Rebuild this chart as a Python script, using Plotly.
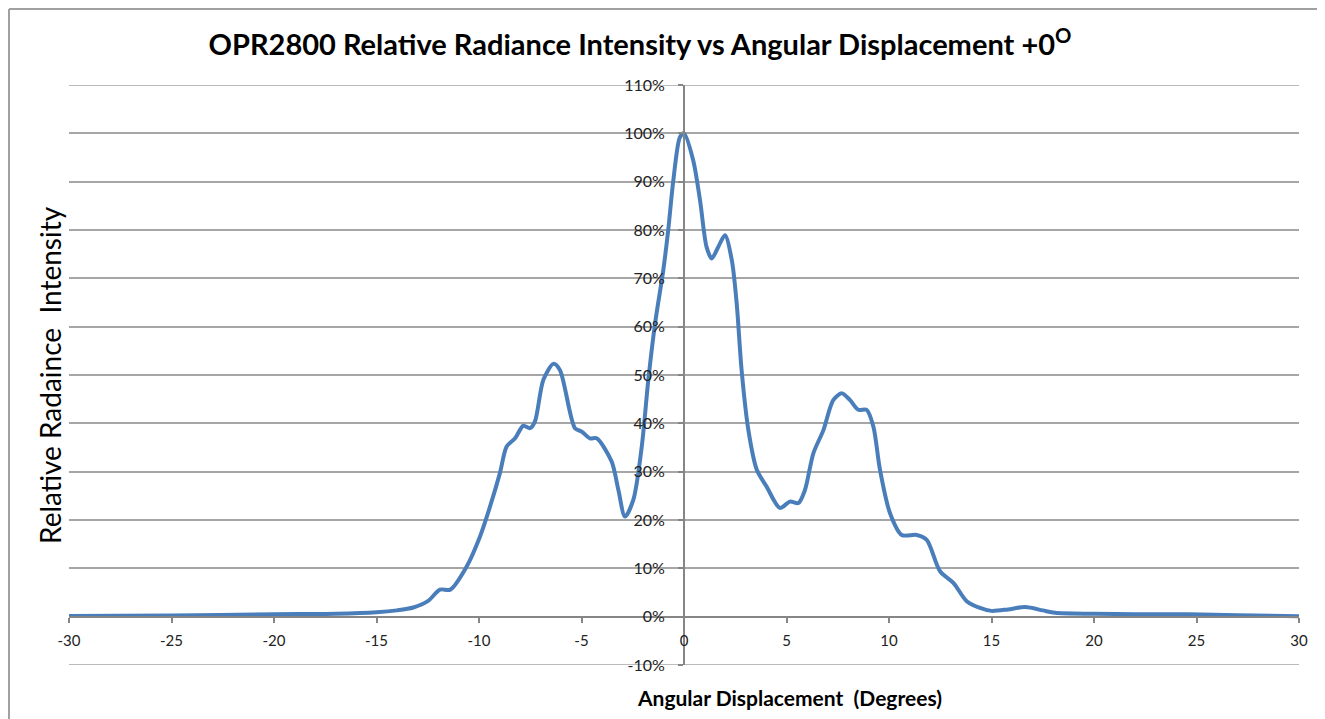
import plotly.graph_objects as go

angle_deg = [-30, -25, -20, -17, -15, -14, -13.2, -12.5, -11.9, -11.4, -10.6, -9.95, -9.46,
             -8.98, -8.65, -8.24, -7.84, -7.51, -7.27, -6.86, -6.37, -6.05, -5.32, -4.99,
             -4.59, -4.26, -3.53, -3.2, -2.88, -2.47, -2.06, -1.74, -1.41, -1.01, -0.77,
             -0.52, -0.2, 0, 0.45, 0.78, 1.1, 1.35, 1.67, 2.0, 2.33, 2.57, 2.81, 3.14,
             3.55, 4.03, 4.68, 5.17, 5.58, 5.9, 6.31, 6.8, 7.28, 7.69, 8.1, 8.5, 8.91,
             9.24, 9.56, 10.05, 10.62, 11.35, 11.84, 12.49, 13.14, 13.79, 14.44, 15,
             15.8, 16.65, 17.5, 18.1, 20, 22, 24.6, 27, 30]
intensity_pct = [0.15, 0.25, 0.5, 0.6, 0.9, 1.3, 1.9, 3.2, 5.6, 5.6, 10.4, 16.6, 22.8,
                 29.7, 35.2, 36.9, 39.5, 39.0, 40.4, 49.0, 52.3, 51.0, 39.0, 38.3,
                 36.9, 36.9, 32.1, 26.2, 20.7, 24.2, 35.2, 49.0, 60.7, 71.7, 80.0,
                 90.3, 99.2, 100, 94.4, 86.2, 76.5, 74.1, 76.5, 78.9, 73.8, 64.8, 51.0, 38.6,
                 30.4, 26.9, 22.5, 23.8, 23.5, 26.2, 33.8, 38.6, 44.8, 46.2, 44.8, 42.8, 42.8,
                 39.3, 30.4, 21.4, 16.9, 16.9, 15.9, 9.4, 7.0, 3.2, 1.8, 1.2,
                 1.5, 2.0, 1.3, 0.8, 0.6, 0.5, 0.5, 0.3, 0.1]

x_ticks = [-30, -25, -20, -15, -10, -5, 0, 5, 10, 15, 20, 25, 30]
y_ticks = [-10, 0, 10, 20, 30, 40, 50, 60, 70, 80, 90, 100, 110]
y_min, y_max = y_ticks[0], y_ticks[-1]

title_text = "<b>OPR2800 Relative Radiance Intensity vs Angular Displacement +0<sup>O</sup></b>"
x_title = "<b>Angular Displacement  (Degrees)</b>"
y_title = "Relative Radaince  Intensity"

FONT = "Lato, 'Open Sans', sans-serif"
AXIS_COLOR = "#868686"
GRID_COLOR = "#a6a6a6"

# page body has an 8px offset; figure sized so plot area lands on reference pixels
W, H = 1317, 711
L, T = 61, 77
PW, PH = 1230, 580


def px_x(px):  # reference page pixel -> paper x
    return (px - 8 - L) / PW


def px_y(py):  # reference page pixel -> paper y
    return (T + PH - (py - 8)) / PH


fig = go.Figure()
fig.add_trace(go.Scatter(
    x=angle_deg, y=intensity_pct, mode="lines",
    line=dict(color="#4a7ebb", width=4, shape="spline", smoothing=0.8),
    showlegend=False, hoverinfo="x+y",
))

edge_grid = [dict(type="line", xref="paper", yref="y", x0=0, x1=1, y0=v, y1=v,
                  line=dict(color=GRID_COLOR, width=1.5), layer="below")
             for v in (y_min, y_max)]

fig.update_layout(
    width=W, height=H,
    margin=dict(l=L, r=W - L - PW, t=T, b=H - T - PH),
    paper_bgcolor="white", plot_bgcolor="white",
    font=dict(family=FONT, color="#222222", size=15),
    title=dict(text=title_text, x=(640 - 8) / W, xanchor="center", y=1 - (45 - 8) / H, yanchor="middle",
               xref="container", yref="container",
               font=dict(family=FONT, size=29, color="#000000")),
    xaxis=dict(range=[-30, 30], tickvals=x_ticks, ticktext=[str(v) for v in x_ticks],
               anchor="free", position=10 / 120,
               showline=True, linecolor=AXIS_COLOR, linewidth=2,
               ticks="outside", ticklen=5, tickwidth=1.5, tickcolor=AXIS_COLOR,
               ticklabelstandoff=5,
               showgrid=False, zeroline=False,
               tickfont=dict(family=FONT, size=15, color="#222222")),
    yaxis=dict(range=[y_min, y_max], tickvals=y_ticks, ticktext=[f"{v}%" for v in y_ticks],
               anchor="free", position=0.5,
               showline=True, linecolor=AXIS_COLOR, linewidth=2,
               ticks="outside", ticklen=5, tickwidth=1.5, tickcolor=AXIS_COLOR,
               ticklabelstandoff=10,
               showgrid=True, gridcolor=GRID_COLOR, gridwidth=1.5, zeroline=False,
               tickfont=dict(family=FONT, size=16, color="#222222")),
    annotations=[
        dict(text=x_title, xref="paper", yref="paper", x=px_x(789), y=px_y(697),
             xanchor="center", yanchor="middle", showarrow=False,
             font=dict(family=FONT, size=21, color="#000000")),
        dict(text=y_title, xref="paper", yref="paper", x=px_x(50), y=px_y(375),
             xanchor="center", yanchor="middle", textangle=-90, showarrow=False,
             font=dict(family=FONT, size=28, color="#000000")),
    ],
    shapes=edge_grid + [
        dict(type="line", xref="paper", yref="paper", x0=px_x(9), x1=px_x(9),
             y0=px_y(9), y1=px_y(740), line=dict(color="#a0a0a0", width=2)),
        dict(type="line", xref="paper", yref="paper", x0=px_x(9), x1=px_x(1340),
             y0=px_y(9), y1=px_y(9), line=dict(color="#a0a0a0", width=2)),
    ],
)

fig.write_html("out.html")
